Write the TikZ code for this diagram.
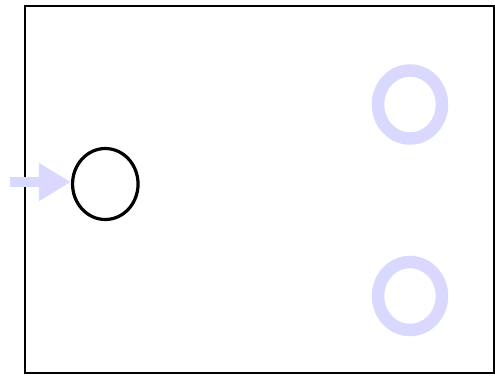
\documentclass[tikz,border=0pt]{standalone}
\usetikzlibrary{arrows.meta,shapes.geometric}
\definecolor{lav}{RGB}{217,217,255}
\tikzset{
  frame/.style={draw=black,line width=2pt},
  placeblack/.style={draw=black,line width=3.2pt,ellipse,inner sep=0pt,minimum width=65.5pt,minimum height=71pt},
  placeghost/.style={draw=lav,line width=12.5pt,ellipse,inner sep=0pt,minimum width=64pt,minimum height=68pt},
  feed/.style={lav,line width=10pt,-{Triangle[length=32pt,width=36pt]}},
}
\begin{document}
\begin{tikzpicture}[x=1pt,y=-1pt]
\useasboundingbox (0,0) rectangle (495,376);
\draw[frame] (25,6) rectangle (494,373);
\node[placeblack] (p0) at (105.3,184) {};
\node[placeghost] (p1) at (410,104.5) {};
\node[placeghost] (p2) at (410,296) {};
\coordinate (s) at (10,182);
\draw[feed] (s) -- (s -| p0.west);
\end{tikzpicture}
\end{document}
